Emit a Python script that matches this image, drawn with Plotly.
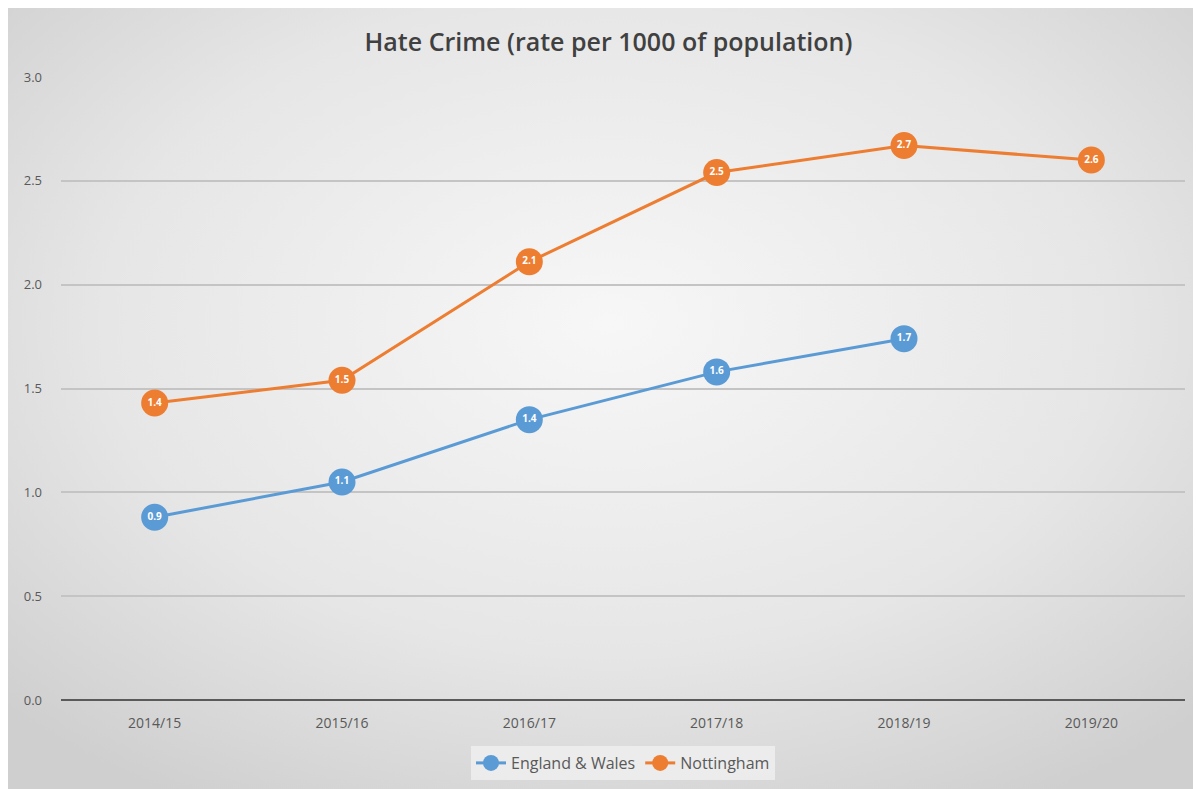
import base64
import plotly.graph_objects as go

categories = ["2014/15", "2015/16", "2016/17", "2017/18", "2018/19", "2019/20"]
england_wales = [0.88, 1.05, 1.35, 1.58, 1.74]
nottingham = [1.43, 1.54, 2.11, 2.54, 2.67, 2.60]
y_ticks = [0.0, 0.5, 1.0, 1.5, 2.0, 2.5, 3.0]

blue = "#5b9bd5"
orange = "#ed7d31"

svg = """<svg xmlns='http://www.w3.org/2000/svg' width='1201' height='789'>
<defs><radialGradient id='g' cx='50%' cy='40%' r='70%'>
<stop offset='0%' stop-color='#f7f7f7'/><stop offset='60%' stop-color='#e6e6e6'/><stop offset='100%' stop-color='#cfcfcf'/>
</radialGradient></defs><rect width='1201' height='789' fill='url(#g)'/></svg>"""
src = "data:image/svg+xml;base64," + base64.b64encode(svg.encode()).decode()

L, R, T, B = 53, 24, 69, 97
W, H = 1201, 789
pw, ph = W - L - R, H - T - B

fig = go.Figure()
fig.add_trace(go.Scatter(
    x=categories[:len(england_wales)], y=england_wales, name="England & Wales",
    mode="lines+markers+text", line=dict(color=blue, width=3),
    marker=dict(size=27, color=blue),
    text=[f"{v:.1f}" for v in england_wales], textposition="middle center",
    textfont=dict(color="white", size=10, family="Open Sans", weight=700),
))
fig.add_trace(go.Scatter(
    x=categories, y=nottingham, name="Nottingham",
    mode="lines+markers+text", line=dict(color=orange, width=3),
    marker=dict(size=27, color=orange),
    text=[f"{v:.1f}" for v in nottingham], textposition="middle center",
    textfont=dict(color="white", size=10, family="Open Sans", weight=700),
))

fig.update_layout(
    width=W, height=H,
    margin=dict(l=L, r=R, t=T, b=B),
    paper_bgcolor="#e4e4e4", plot_bgcolor="rgba(0,0,0,0)",
    images=[dict(source=src, xref="paper", yref="paper", x=-L / pw, y=1 + T / ph,
                 sizex=W / pw, sizey=H / ph, sizing="stretch", layer="below",
                 xanchor="left", yanchor="top")],
    title=dict(text="Hate Crime (rate per 1000 of population)", x=0.5, xanchor="center",
               y=1 - 34 / H, yanchor="middle",
               font=dict(family="Open Sans", size=25, color="#404040", weight=600)),
    font=dict(family="Open Sans", color="#595959", size=13),
    showlegend=True,
    legend=dict(orientation="h", x=0.5, xanchor="center", y=-(763 - 8 - (H - B)) / ph, yanchor="middle",
                bgcolor="rgba(240,240,240,0.8)", font=dict(size=16, color="#595959")),
    xaxis=dict(type="category", categoryorder="array", categoryarray=categories,
               range=[-0.5, len(categories) - 0.5], showgrid=False, showline=False,
               ticks="", ticklabelstandoff=13, tickfont=dict(size=14, color="#595959")),
    yaxis=dict(range=[0, 3.0], tickvals=y_ticks, ticktext=[f"{v:.1f}" for v in y_ticks],
               showgrid=True, gridcolor="#c4c4c4", gridwidth=1.5,
               zeroline=True, zerolinecolor="#5a5a5a", zerolinewidth=1.5,
               ticks="", ticklabelstandoff=18, tickfont=dict(size=13, color="#595959")),
)

fig.write_html("out.html")
